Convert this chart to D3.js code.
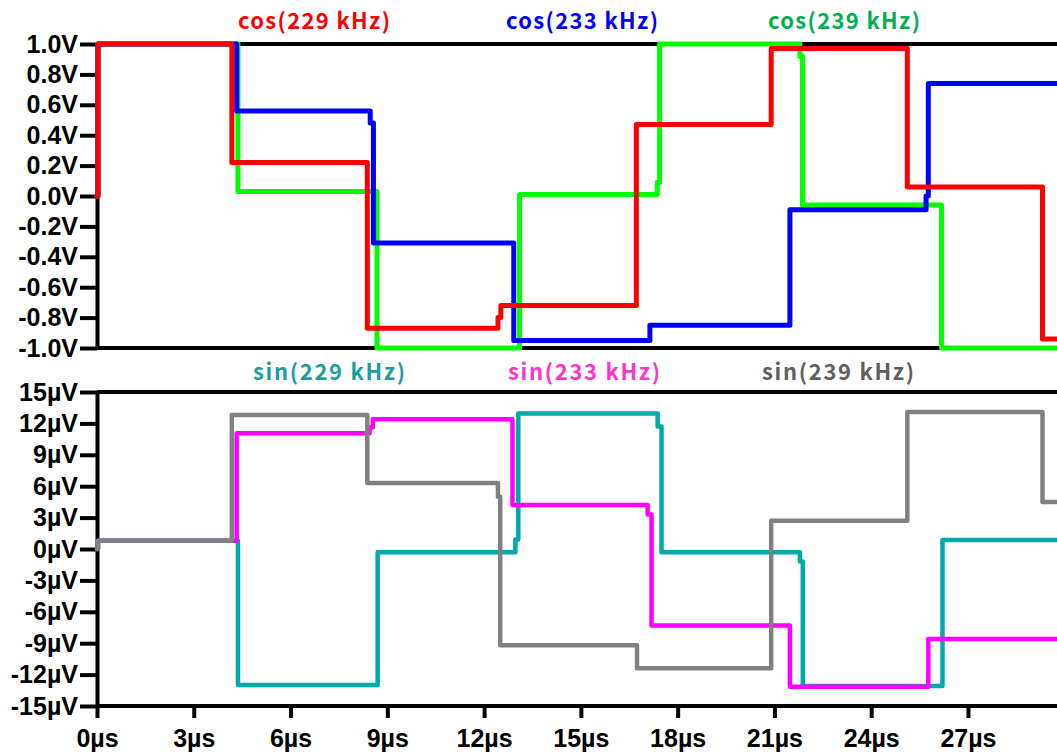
<!DOCTYPE html>
<html>
<head>
<meta charset="utf-8">
<script src="https://cdn.jsdelivr.net/npm/d3@7"></script>
<style>
  body { margin: 0; background: #fff; }
  svg { display: block; }
  .tick text { font-family: "Liberation Sans", Arial, sans-serif; font-weight: bold; font-size: 25px; fill: #000; }
  .title { font-family: "Noto Sans CJK JP", "Noto Sans", sans-serif; font-size: 22px; font-weight: bold; }
</style>
</head>
<body>
<div id="chart"></div>
<script>
// step traces: [time in µs, value] -- each value holds until the next time
const cos229 = [[0, 0], [0.03, 1.0], [4.18, 0.22], [8.38, -0.87], [12.43, -0.80], [12.52, -0.72], [16.72, 0.47], [20.9, 0.97], [25.12, 0.06], [29.31, -0.94], [29.8, -0.94]];
const cos233 = [[0, 0], [0.03, 1.0], [4.33, 0.56], [8.47, 0.48], [8.57, -0.31], [12.92, -0.95], [17.14, -0.85], [21.48, -0.09], [25.7, 0.0], [25.77, 0.74], [29.8, 0.74]];
const cos239 = [[0, 0], [0.03, 1.0], [4.37, 0.03], [8.68, -1.0], [13.1, 0.01], [17.37, 0.09], [17.44, 1.0], [21.79, 0.92], [21.87, -0.06], [26.18, -1.0], [29.8, -1.0]];

const sin229 = [[0, 0], [0.03, 0.8], [4.37, -13.0], [8.7, -0.3], [12.97, 0.9], [13.06, 12.95], [17.38, 11.7], [17.5, -0.3], [21.79, -1.2], [21.88, -13.1], [26.21, 0.86], [29.8, 0.86]];
const sin233 = [[0, 0], [0.03, 0.8], [4.33, 11.05], [8.45, 11.6], [8.55, 12.4], [12.88, 4.2], [17.07, 3.3], [17.19, -7.3], [21.48, -13.15], [25.77, -8.6], [29.8, -8.6]];
const sin239 = [[0, 0], [0.03, 0.8], [4.18, 12.8], [8.38, 6.3], [12.43, 5.0], [12.5, -9.2], [16.74, -11.4], [20.9, 2.7], [25.12, 13.1], [29.31, 4.5], [29.8, 4.5]];

const cosTicks = [-1.0, -0.8, -0.6, -0.4, -0.2, 0.0, 0.2, 0.4, 0.6, 0.8, 1.0];
const sinTicks = [-15, -12, -9, -6, -3, 0, 3, 6, 9, 12, 15];
const timeTicks = [0, 3, 6, 9, 12, 15, 18, 21, 24, 27];

const cosSeries = [
  {name: 'cos(229 kHz)', data: cos229, line: '#ff0000', text: '#ff0000', labelX: 314},
  {name: 'cos(233 kHz)', data: cos233, line: '#0000ff', text: '#0000ff', labelX: 582},
  {name: 'cos(239 kHz)', data: cos239, line: '#00ff00', text: '#00b050', labelX: 844}
];
const sinSeries = [
  {name: 'sin(229 kHz)', data: sin229, line: '#00aaaa', text: '#1a9e9e', labelX: 329},
  {name: 'sin(233 kHz)', data: sin233, line: '#ff00ff', text: '#ff33cc', labelX: 584},
  {name: 'sin(239 kHz)', data: sin239, line: '#808080', text: '#606060', labelX: 838}
];

const width = 1057, height = 753;
const svg = d3.select('#chart').append('svg')
  .attr('width', width)
  .attr('height', height);

const x = d3.scaleLinear().domain([0, 29.76]).range([97, width]);
const yTop = d3.scaleLinear().domain([-1, 1]).range([348, 44]);
const yBot = d3.scaleLinear().domain([-15, 15]).range([706, 392]);

const frame = (y, lo, hi) => {
  svg.append('line')
    .attr('x1', x(0)).attr('x2', width)
    .attr('y1', y(hi)).attr('y2', y(hi))
    .attr('stroke', '#000').attr('stroke-width', 4);
  svg.append('line')
    .attr('x1', x(0)).attr('x2', width)
    .attr('y1', y(lo)).attr('y2', y(lo))
    .attr('stroke', '#000').attr('stroke-width', 4);
};
frame(yTop, -1, 1);
frame(yBot, -15, 15);

const styleAxis = g => {
  g.select('.domain').attr('stroke', '#000').attr('stroke-width', 4);
  g.selectAll('.tick line').attr('stroke', '#000').attr('stroke-width', 4);
  g.selectAll('.tick text').attr('font-family', null).attr('font-size', null);
};

svg.append('g')
  .attr('transform', `translate(${ x(0) },0)`)
  .call(d3.axisLeft(yTop).tickValues(cosTicks).tickFormat(d => d.toFixed(1) + 'V').tickSize(17).tickSizeOuter(0).tickPadding(2))
  .call(styleAxis);

svg.append('g')
  .attr('transform', `translate(${ x(0) },0)`)
  .call(d3.axisLeft(yBot).tickValues(sinTicks).tickFormat(d => d + 'µV').tickSize(17).tickSizeOuter(0).tickPadding(2))
  .call(styleAxis);

const xAxis = svg.append('g')
  .attr('transform', `translate(0,${ yBot(-15) })`)
  .call(d3.axisBottom(x).tickValues(timeTicks).tickFormat(d => d + 'µs').tickSize(12).tickSizeOuter(0).tickPadding(11))
  .call(styleAxis);
xAxis.select('.domain').remove();

const drawTraces = (series, y, sw) => {
  const line = d3.line()
    .x(d => x(d[0]))
    .y(d => y(d[1]))
    .curve(d3.curveStepAfter);
  // last series goes on top
  series.forEach(s => {
    svg.append('path')
      .datum(s.data)
      .attr('d', line)
      .attr('fill', 'none')
      .attr('stroke', s.line)
      .attr('stroke-width', sw)
      .attr('stroke-linejoin', 'round')
      .attr('stroke-linecap', 'round');
  });
};
drawTraces([cosSeries[2], cosSeries[1], cosSeries[0]], yTop, 5);
drawTraces([sinSeries[0], sinSeries[1], sinSeries[2]], yBot, 4.5);

const titles = (series, ty) => {
  svg.selectAll(null)
    .data(series)
    .enter().append('text')
    .attr('class', 'title')
    .attr('x', d => d.labelX)
    .attr('y', ty)
    .attr('text-anchor', 'middle')
    .attr('fill', d => d.text)
    .attr('textLength', 152)
    .attr('lengthAdjust', 'spacing')
    .text(d => d.name);
};
titles(cosSeries, 29);
titles(sinSeries, 380);
</script>
</body>
</html>
